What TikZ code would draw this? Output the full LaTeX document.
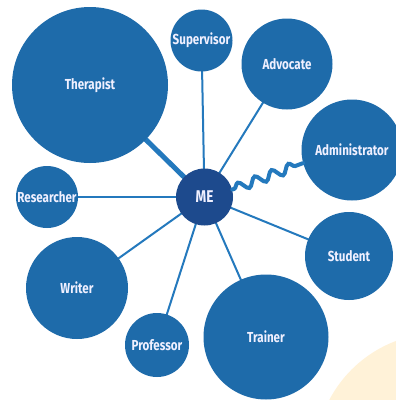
\documentclass[tikz,border=0pt]{standalone}
\usepackage{fontspec}
\setmainfont{Fira Sans}[FakeStretch=0.8]
\usetikzlibrary{decorations.pathmorphing}
\definecolor{rolefill}{HTML}{1E6BAA}
\definecolor{mefill}{HTML}{1D4A8D}
\definecolor{linkblue}{HTML}{2479BD}
\definecolor{sunny}{HTML}{FFF2D8}
\begin{document}
\begin{tikzpicture}[x=1pt,y=-1pt,
  role/.style={circle, fill=rolefill, inner sep=0pt, text=white!94!blue,
    font=\fontsize{14.5}{16}\selectfont\bfseries},
  link/.style={draw=linkblue, line width=2pt},
  thicklink/.style={draw=linkblue, line width=5pt},
  wavylink/.style={draw=linkblue, line width=4pt, line cap=round,
    decorate, decoration={snake, segment length=18pt, amplitude=4.5pt,
      pre length=2pt, post length=2pt}}]
\useasboundingbox (0,0) rectangle (396,400);
\fill[white] (0,0) rectangle (396,400);
% soft yellow disc in the corner
\begin{scope}
  \clip (0,0) rectangle (396,400);
  \fill[sunny] (440,458) circle (125);
\end{scope}

% connectors (drawn first, so the discs sit on top)
\coordinate (cme) at (204.5,197);
\coordinate (cther) at (90,85);
\coordinate (csup) at (201.5,40.5);
\coordinate (cadv) at (287,64);
\coordinate (cadm) at (352,150);
\coordinate (cres) at (47,197);
\coordinate (cwri) at (77,288);
\coordinate (cpro) at (157,345);
\coordinate (cstu) at (349,256);
\coordinate (ctra) at (266,337);

\draw[thicklink] (cther) -- (cme);
\draw[link] (csup) -- (cme);
\draw[link] (cadv) -- (cme);
\draw[link] (cres) -- (cme);
\draw[link] (cwri) -- (cme);
\draw[link] (cpro) -- (cme);
\draw[link] (cstu) -- (cme);
\draw[link] (ctra) -- (cme);

% role discs
\node[role, minimum size=156pt] (ther) at (cther) {Therapist};
\node[role, minimum size=62pt] (sup) at (csup) {Supervisor};
\node[role, minimum size=91pt] (adv) at (cadv) {Advocate};
\node[role, minimum size=101pt] (adm) at (cadm) {Administrator};
\node[role, minimum size=62pt] (res) at (cres) {Researcher};
\node[role, minimum size=102pt] (wri) at (cwri) {Writer};
\node[role, minimum size=64pt] (pro) at (cpro) {Professor};
\node[role, minimum size=88pt] (stu) at (cstu) {Student};
\node[role, minimum size=125pt] (tra) at (ctra) {Trainer};
\node[role, fill=mefill, minimum size=57pt,
  font=\fontsize{17}{19}\selectfont\bfseries] (me) at (cme) {ME};

% wavy tie to the administrator
\draw[wavylink] (me.15) -- (adm.195);
\end{tikzpicture}
\end{document}
